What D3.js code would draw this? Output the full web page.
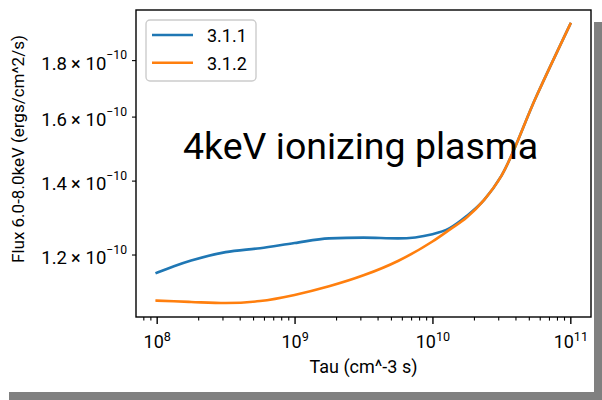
<!DOCTYPE html>
<html>
    <head>
        <title>Flux vs Tau</title>
        <style>
            body, html {
              margin: 0;
              padding: 0;
              background: #fff;
            }
            svg text {
              font-family: Roboto, sans-serif;
            }
        </style>
    </head>
    <body>

        <svg id="svg" width="602" height="400"></svg>

        <script src="https://d3js.org/d3.v7.min.js"></script>
        <script>
            // values
            const tau = [1e8, 1.334e8, 1.778e8, 3.162e8, 5.623e8, 1e9, 1.778e9, 3.162e9,
                         5.623e9, 1e10, 1.334e10, 1.778e10, 2.371e10, 3.162e10, 5.623e10, 1e11]
            const flux311 = [1.155, 1.171, 1.185, 1.206, 1.216, 1.229, 1.241, 1.243,
                             1.241, 1.252, 1.268, 1.301, 1.345, 1.414, 1.665, 1.941].map(v => v * 1e-10)
            const flux312 = [1.090, 1.0885, 1.087, 1.0845, 1.089, 1.103, 1.123, 1.149,
                             1.184, 1.233, 1.264, 1.297, 1.345, 1.414, 1.665, 1.941].map(v => v * 1e-10)
            const seriesNames = ['3.1.1', '3.1.2']
            const colors = ['#1f77b4', '#ff7f0e']
            const xMajorTicks = [1e8, 1e9, 1e10, 1e11]
            const xTickExp = ['8', '9', '10', '11']
            const yTicks = [1.2e-10, 1.4e-10, 1.6e-10, 1.8e-10]
            const yTickMant = ['1.2', '1.4', '1.6', '1.8']
            const title = '4keV ionizing plasma'

            const margin = { top: 10, right: 11, bottom: 83, left: 136 }
            const width = 602 - margin.left - margin.right
            const height = 400 - margin.top - margin.bottom

            const svg = d3.select('#svg')

            // drop shadow of the figure
            svg.append('rect').attr('x', 594).attr('y', 22).attr('width', 8).attr('height', 378).attr('fill', '#808080')
            svg.append('rect').attr('x', 9).attr('y', 392).attr('width', 593).attr('height', 8).attr('fill', '#808080')

            // 5% margins in log space like matplotlib
            const lx = [8, 11], ly = [Math.log10(1.0845e-10), Math.log10(1.941e-10)]
            const padX = (lx[1] - lx[0]) * 0.05, padY = (ly[1] - ly[0]) * 0.05
            const xscale = d3.scaleLog()
                .domain([10 ** (lx[0] - padX), 10 ** (lx[1] + padX)])
                .range([margin.left, margin.left + width])
            const yscale = d3.scaleLog()
                .domain([10 ** (ly[0] - padY), 10 ** (ly[1] + padY)])
                .range([margin.top + height, margin.top])

            // curves
            const line = d3.line()
                .x(d => xscale(d[0]))
                .y(d => yscale(d[1]))
                .curve(d3.curveMonotoneX)

            const series = [flux311, flux312]
            series.forEach((vals, i) => {
                svg.append('path')
                    .datum(tau.map((t, j) => [t, vals[j]]))
                    .attr('fill', 'none')
                    .attr('stroke', colors[i])
                    .attr('stroke-width', 2.6)
                    .attr('stroke-linecap', 'square')
                    .attr('d', line)
            })

            // x minor ticks
            const minor = []
            for (let e = 7; e <= 11; e++) {
                for (let k = 2; k <= 9; k++) {
                    const v = k * 10 ** e
                    if (v >= xscale.domain()[0] && v <= xscale.domain()[1]) minor.push(v)
                }
            }
            const xMinorAxis = d3.axisBottom(xscale).tickValues(minor).tickSize(3.6).tickFormat('')
            svg.append('g')
                .attr('transform', `translate(0, ${margin.top + height})`)
                .call(xMinorAxis)
                .call(g => g.select('.domain').remove())
                .call(g => g.selectAll('line').attr('stroke-width', 1.1))

            const xAxis = d3.axisBottom(xscale).tickValues(xMajorTicks).tickSize(7).tickPadding(6)
            const gx = svg.append('g')
                .attr('transform', `translate(0, ${margin.top + height})`)
                .call(xAxis)
            gx.select('.domain').remove()
            gx.selectAll('line').attr('stroke-width', 1.4)
            gx.selectAll('text')
                .attr('font-size', 18)
                .attr('fill', '#000')
                .attr('dy', '1.02em')
                .text(null)
                .each(function (d, i) {
                    const t = d3.select(this)
                    t.append('tspan').text('10')
                    t.append('tspan').attr('font-size', 12.6).attr('dy', -7).text(xTickExp[i])
                })

            const yAxis = d3.axisLeft(yscale).tickValues(yTicks).tickSize(4).tickPadding(5)
            const gy = svg.append('g')
                .attr('transform', `translate(${margin.left}, 0)`)
                .call(yAxis)
            gy.select('.domain').remove()
            gy.selectAll('line').attr('stroke-width', 1.1)
            gy.selectAll('text')
                .attr('font-size', 18.5)
                .attr('fill', '#000')
                .attr('dy', '0.5em')
                .text(null)
                .each(function (d, i) {
                    const t = d3.select(this)
                    t.append('tspan').text(yTickMant[i])
                    t.append('tspan').attr('dx', 4).attr('font-size', 18).text('×')
                    t.append('tspan').attr('dx', 5).text('10')
                    t.append('tspan').attr('font-size', 12.2).attr('dy', -10.5).text('−10')
                })

            // axes frame
            svg.append('rect')
                .attr('x', margin.left).attr('y', margin.top)
                .attr('width', width).attr('height', height)
                .attr('fill', 'none').attr('stroke', '#000').attr('stroke-width', 1.4)

            // labels
            svg.append('text')
                .attr('x', margin.left + width / 2).attr('y', 373)
                .attr('text-anchor', 'middle').attr('font-size', 18)
                .text('Tau (cm^-3 s)')
            svg.append('text')
                .attr('transform', 'translate(24, 263) rotate(-90)')
                .attr('font-size', 17)
                .text('Flux 6.0-8.0keV (ergs/cm^2/s)')

            svg.append('text')
                .attr('x', 183).attr('y', 158.5)
                .attr('font-size', 37.5)
                .text(title)

            // legend
            const lg = svg.append('g').attr('transform', 'translate(146, 20)')
            lg.append('rect')
                .attr('width', 110).attr('height', 61).attr('rx', 4)
                .attr('fill', '#fff').attr('fill-opacity', 0.8)
                .attr('stroke', '#cccccc').attr('stroke-width', 1.4)
            seriesNames.forEach((name, i) => {
                const yy = 15 + i * 27.7
                lg.append('line')
                    .attr('x1', 6).attr('x2', 47).attr('y1', yy).attr('y2', yy)
                    .attr('stroke', colors[i]).attr('stroke-width', 2.6)
                lg.append('text')
                    .attr('x', 61).attr('y', yy + 7.2)
                    .attr('font-size', 18)
                    .text(name)
            })
        </script>
    </body>
</html>
